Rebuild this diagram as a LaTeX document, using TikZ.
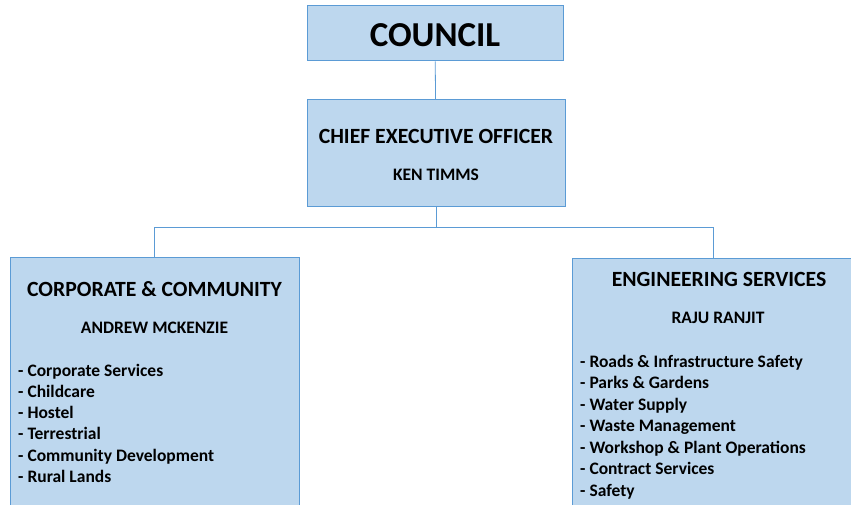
\documentclass[tikz,border=0pt]{standalone}
\usepackage{fontspec}
\setmainfont{Carlito}
\usetikzlibrary{positioning}
\definecolor{boxfill}{HTML}{BDD7EE}
\definecolor{boxline}{HTML}{5B9BD5}
\tikzset{unitbox/.style = {rectangle, draw = boxline, fill = boxfill, line width = 1pt, inner sep = 0}}
\tikzset{link/.style = {-, draw = boxline, line width = 0.8pt}}
\tikzset{headtext/.style = {inner sep = 0, anchor = base, font = \bfseries\fontsize{21.7}{26}\selectfont}}
\tikzset{nametext/.style = {inner sep = 0, anchor = base, font = \bfseries\fontsize{17.5}{21}\selectfont}}
\tikzset{depttext/.style = {inner sep = 0, anchor = base west, font = \bfseries\fontsize{17.5}{21}\selectfont}}

\begin{document}
\begin{tikzpicture}[x = 1pt, y = -1pt]
\clip (0, 0) rectangle (851, 505);
\fill [white] (0, 0) rectangle (851, 505);
% boxes
\node [unitbox, minimum width = 256, minimum height = 55] (council) at (435, 33.5) {};
\node [unitbox, minimum width = 258, minimum height = 107] (ceo) at (436, 153.5) {};
\node [unitbox, minimum width = 289, minimum height = 283] (ccbox) at (154.5, 398.5) {};
\node [unitbox, minimum width = 282, minimum height = 283] (esbox) at (713, 399.5) {};
% connectors
\draw [link] (council) to (ceo);
\draw [link] (ceo.south) to ++(0, 20) coordinate (bus);
\draw [link] (ccbox.north) |- (bus) -| (esbox.north);
% texts
\node [headtext, font = \bfseries\fontsize{35}{42}\selectfont] (councilT) at (435, 46.5) {COUNCIL};
\node [headtext] (ceoT) at (436, 144) {CHIEF EXECUTIVE OFFICER};
\node [nametext] (ceoN) at (436, 181) {KEN TIMMS};
\node [headtext] (ccT) at (154.5, 296) {CORPORATE \& COMMUNITY};
\node [nametext] (ccN) at (154.5, 333.5) {ANDREW MCKENZIE};
\node [headtext] (esT) at (719, 286) {ENGINEERING SERVICES};
\node [nametext] (esN) at (718, 323) {RAJU RANJIT};
\foreach \dept [count = \i] in {Corporate Services, Childcare, Hostel, Terrestrial, Community Development, Rural Lands}
  \node [depttext] (cc\i) at (18, 376 + 21.3 * \i - 21.3) {- \dept};
\foreach \dept [count = \i] in {Roads \& Infrastructure Safety, Parks \& Gardens, Water Supply, Waste Management, Workshop \& Plant Operations, Contract Services, Safety}
  \node [depttext] (es\i) at (580, 367 + 21.5 * \i - 21.5) {- \dept};
\end{tikzpicture}
\end{document}
